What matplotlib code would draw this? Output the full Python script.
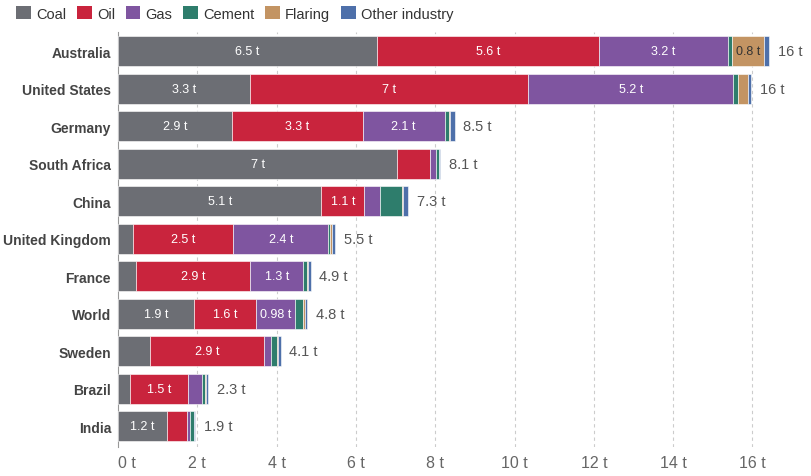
import matplotlib.pyplot as plt
from matplotlib.patches import Patch
import numpy as np

plt.rcParams['font.family'] = ['Liberation Sans', 'DejaVu Sans']

countries = ['Australia', 'United States', 'Germany', 'South Africa', 'China',
             'United Kingdom', 'France', 'World', 'Sweden', 'Brazil', 'India']
sources = ['Coal', 'Oil', 'Gas', 'Cement', 'Flaring', 'Other industry']
colors = ['#6c6e74', '#c9243d', '#7f55a0', '#2e7d6c', '#c39463', '#4e70aa']

coal = [6.52, 3.33, 2.88, 7.04, 5.13, 0.37, 0.45, 1.91, 0.81, 0.31, 1.24]
oil = [5.62, 7.02, 3.29, 0.84, 1.08, 2.54, 2.89, 1.58, 2.86, 1.46, 0.49]
gas = [3.24, 5.16, 2.07, 0.13, 0.4, 2.39, 1.33, 0.98, 0.19, 0.34, 0.08]
cement = [0.11, 0.12, 0.12, 0.08, 0.56, 0.05, 0.1, 0.19, 0.15, 0.09, 0.11]
flaring = [0.8, 0.26, 0.01, 0.0, 0.01, 0.05, 0.03, 0.05, 0.03, 0.03, 0.0]
other = [0.14, 0.07, 0.12, 0.03, 0.13, 0.08, 0.06, 0.06, 0.06, 0.05, 0.02]

series = [coal, oil, gas, cement, flaring, other]
label_dark = {'Flaring': '#333333'}

fig = plt.figure(figsize=(8.12, 4.77), dpi=100)
ax = fig.add_axes([118 / 812, 1 - 448 / 477, (800 - 118) / 812, (448 - 33) / 477])

y = np.arange(len(countries))
left = np.zeros(len(countries))
for name, vals, col in zip(sources, series, colors):
    vals = np.array(vals, dtype=float)
    ax.barh(y, vals, left=left, height=0.8, color=col, edgecolor='white', linewidth=0.4, zorder=3)
    for i, v in enumerate(vals):
        show = v >= 0.95 or (name == 'Flaring' and v >= 0.75)
        if show:
            ax.text(left[i] + v / 2, y[i], f"{float(f'{v:.2g}'):g} t", ha='center', va='center',
                    color=label_dark.get(name, 'white'), fontsize=9, zorder=4)
    left += vals

for i, tot in enumerate(left):
    ax.text(tot + 0.22, y[i], f"{float(f'{tot:.2g}'):g} t", ha='left', va='center',
            color='#555555', fontsize=10.5, zorder=4)

ax.set_xlim(0, 17.2)
ax.set_ylim(10.56, -0.51)
ax.set_yticks(y)
ax.set_yticklabels(countries, fontsize=10, fontweight='bold', color='#444444')
ticks = np.arange(0, 17, 2)
ax.set_xticks(ticks)
ax.set_xticklabels([f'{t} t' for t in ticks], fontsize=11.5, color='#666666')
ax.get_xticklabels()[0].set_ha('left')
ax.tick_params(length=0, pad=6)
ax.tick_params(axis='y', pad=5)
for t in ticks[1:]:
    ax.axvline(t, color='#cccccc', linestyle=(0, (3, 3)), linewidth=0.8, zorder=1)
for s in ['top', 'right', 'bottom']:
    ax.spines[s].set_visible(False)
ax.spines['left'].set_color('#999999')
ax.spines['left'].set_linewidth(0.8)

handles = [Patch(facecolor=c, label=n) for n, c in zip(sources, colors)]
fig.legend(handles=handles, loc='upper left', bbox_to_anchor=(0.004, 1.012), ncol=6, frameon=False,
           fontsize=10.5, handlelength=1.0, handleheight=1.0, handletextpad=0.35, columnspacing=0.75,
           labelcolor='#333333')

fig.savefig('out.png', dpi=100)
